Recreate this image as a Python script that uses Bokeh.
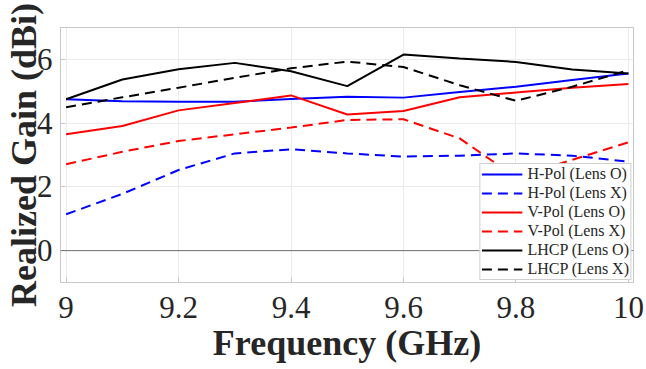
from bokeh.plotting import figure
from bokeh.models import Range1d, FixedTicker, Span, Legend, LegendItem, NumeralTickFormatter, Title
from bokeh.embed import file_html
from bokeh.resources import INLINE

freq = [9.0, 9.1, 9.2, 9.3, 9.4, 9.5, 9.6, 9.7, 9.8, 9.9, 10.0]
hpol_lens_o = [4.75, 4.69, 4.67, 4.67, 4.76, 4.83, 4.80, 4.98, 5.14, 5.35, 5.56]
hpol_lens_x = [1.14, 1.78, 2.53, 3.05, 3.18, 3.05, 2.95, 2.98, 3.05, 2.98, 2.79]
vpol_lens_o = [3.65, 3.91, 4.40, 4.63, 4.87, 4.27, 4.38, 4.81, 4.96, 5.11, 5.23]
vpol_lens_x = [2.71, 3.10, 3.44, 3.65, 3.86, 4.10, 4.12, 3.52, 2.30, 2.85, 3.40]
lhcp_lens_o = [4.75, 5.37, 5.69, 5.89, 5.63, 5.16, 6.15, 6.03, 5.92, 5.68, 5.56]
lhcp_lens_x = [4.50, 4.81, 5.11, 5.42, 5.72, 5.93, 5.76, 5.19, 4.70, 5.14, 5.66]

series_names = ["H-Pol (Lens O)", "H-Pol (Lens X)", "V-Pol (Lens O)",
                "V-Pol (Lens X)", "LHCP (Lens O)", "LHCP (Lens X)"]
xtick_vals = [9.0, 9.2, 9.4, 9.6, 9.8, 10.0]
ytick_vals = [0, 2, 4, 6]
x_title = "Frequency (GHz)"
y_title = "Realized Gain (dBi)"

FONT = "Liberation Serif"
GRAY = "#c8c8c8"
XMIN, XMAX = 8.99, 10.009
YMIN, YMAX = -1, 7

p = figure(width=646, height=369, output_backend="svg", toolbar_location=None,
           x_range=Range1d(XMIN, XMAX), y_range=Range1d(YMIN, YMAX),
           min_border_left=60, min_border_right=13, min_border_top=27, min_border_bottom=87)
p.background_fill_color = "white"
p.border_fill_color = "white"
p.outline_line_color = GRAY
p.outline_line_width = 1

for ax in (p.xaxis[0], p.yaxis[0]):
    ax.axis_line_color = GRAY
    ax.major_tick_line_color = GRAY
    ax.major_tick_in = 5
    ax.major_tick_out = 0
    ax.minor_tick_line_color = None
    ax.major_label_text_font = FONT
    ax.major_label_text_font_size = "31px"
    ax.major_label_text_color = "#262626"
    ax.axis_label_text_font = FONT
    ax.axis_label_text_font_style = "bold"
    ax.axis_label_text_font_size = "36px"
    ax.axis_label_text_color = "#262626"

p.xaxis.ticker = FixedTicker(ticks=xtick_vals)
p.xaxis.formatter = NumeralTickFormatter(format="0.[0]")
p.yaxis.ticker = FixedTicker(ticks=ytick_vals)
p.xaxis.axis_label = x_title
p.xaxis.major_label_standoff = 14
p.xaxis.axis_label_standoff = 2
p.yaxis.major_label_standoff = 8

# y-axis title as a side title at the left edge, like the original
ytitle = Title(text=y_title, align="center", vertical_align="top", standoff=-24,
               text_font=FONT, text_font_style="bold", text_font_size="36px",
               text_color="#262626")
p.add_layout(ytitle, "left")

p.xgrid.grid_line_color = "#ebebeb"
p.ygrid.grid_line_color = "#ebebeb"

p.add_layout(Span(location=0, dimension="width", line_color="#6e6e6e", line_width=1))

styles = [("#0000ff", "solid"), ("#0000ff", "10 6"), ("#ff0000", "solid"),
          ("#ff0000", "10 6"), ("#000000", "solid"), ("#000000", "10 6")]
data = [hpol_lens_o, hpol_lens_x, vpol_lens_o, vpol_lens_x, lhcp_lens_o, lhcp_lens_x]

items = []
for name, ys, (c, d) in zip(series_names, data, styles):
    r = p.line(freq, ys, line_color=c, line_width=2, line_dash=d)
    items.append(LegendItem(label=name, renderers=[r]))

legend = Legend(items=items, location="bottom_right")
legend.label_text_font = FONT
legend.label_text_font_size = "16px"
legend.label_text_color = "#262626"
legend.label_height = 18
legend.glyph_height = 18
legend.glyph_width = 41
legend.label_standoff = 5
legend.spacing = 1
legend.padding = 1
legend.margin = 2
legend.border_line_color = "#a0a0a0"
legend.background_fill_color = "white"
legend.background_fill_alpha = 1
p.add_layout(legend)

open("out.html", "w").write(file_html(p, INLINE))
